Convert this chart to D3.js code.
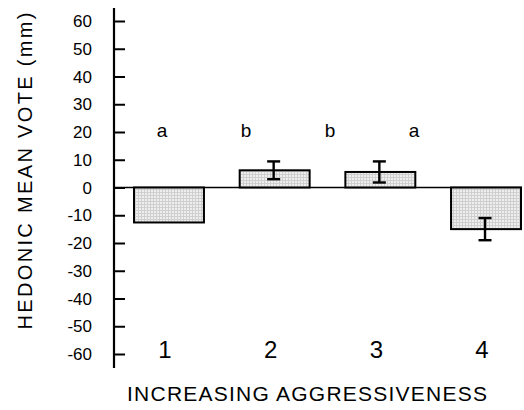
<!DOCTYPE html>
<html lang='en'>
<head>
  <meta charset='UTF-8'>
  <title>Hedonic mean vote</title>
  <style>
    body { margin: 0; background: #fff; }
    text { font-family: 'Liberation Sans', Arial, sans-serif; fill: #000; }
  </style>
</head>
<body>
<div id='chart'></div>
<script src='https://d3js.org/d3.v7.min.js'></script>
<script>
  // data
  var categories = ['1', '2', '3', '4']
  var means = [-12.6, 6.2, 5.6, -15.0]
  var errors = [null, 3.2, 3.8, 4.0]
  var letters = ['a', 'b', 'b', 'a']
  var yTicks = [-60, -50, -40, -30, -20, -10, 0, 10, 20, 30, 40, 50, 60]

  var width = 524, height = 410

  var svg = d3.select('#chart').append('svg')
    .attr('width', width)
    .attr('height', height)

  // dotted grey fill of the bars
  var pat = svg.append('defs').append('pattern')
    .attr('id', 'dots')
    .attr('patternUnits', 'userSpaceOnUse')
    .attr('width', 3).attr('height', 3)
  pat.append('rect').attr('width', 3).attr('height', 3).attr('fill', '#eeeeee')
  pat.append('rect').attr('width', 3).attr('height', 1).attr('fill', '#cfcfcf')
  pat.append('rect').attr('width', 1).attr('height', 3).attr('fill', '#cfcfcf')

  var axisX = 114

  var y = d3.scaleLinear().domain([-60, 60]).range([354, 21])
  var x = d3.scaleBand().domain(categories).range([134, 521]).paddingInner(0.338).paddingOuter(0)
  // the significance letters sit on their own spacing
  var xLetter = d3.scalePoint().domain(categories).range([162, 414])

  // zero line
  svg.append('line')
    .attr('x1', axisX).attr('x2', 522)
    .attr('y1', y(0)).attr('y2', y(0))
    .attr('stroke', '#000').attr('stroke-width', 1.6)

  // bars
  svg.selectAll('.bar').data(means).enter().append('rect')
    .attr('class', 'bar')
    .attr('x', function (d, i) { return x(categories[i]) })
    .attr('width', x.bandwidth())
    .attr('y', function (d) { return y(Math.max(0, d)) })
    .attr('height', function (d) { return Math.abs(y(d) - y(0)) })
    .attr('fill', 'url(#dots)')
    .attr('stroke', '#000')
    .attr('stroke-width', 2)

  // error bars
  var cap = 6.5
  var eb = svg.selectAll('.err').data(means.map(function (m, i) { return {m: m, e: errors[i], c: categories[i]} })
    .filter(function (d) { return d.e != null }))
    .enter().append('g').attr('class', 'err')
    .attr('stroke', '#000').attr('stroke-width', 2.4)
  eb.append('line')
    .attr('x1', function (d) { return x(d.c) + x.bandwidth() / 2 - 1 })
    .attr('x2', function (d) { return x(d.c) + x.bandwidth() / 2 - 1 })
    .attr('y1', function (d) { return y(d.m + d.e) })
    .attr('y2', function (d) { return y(d.m - d.e) })
  eb.append('line')
    .attr('x1', function (d) { return x(d.c) + x.bandwidth() / 2 - 1 - cap })
    .attr('x2', function (d) { return x(d.c) + x.bandwidth() / 2 - 1 + cap })
    .attr('y1', function (d) { return y(d.m + d.e) })
    .attr('y2', function (d) { return y(d.m + d.e) })
  eb.append('line')
    .attr('x1', function (d) { return x(d.c) + x.bandwidth() / 2 - 1 - cap })
    .attr('x2', function (d) { return x(d.c) + x.bandwidth() / 2 - 1 + cap })
    .attr('y1', function (d) { return y(d.m - d.e) })
    .attr('y2', function (d) { return y(d.m - d.e) })

  // y axis, ticks pointing right
  var yAxis = d3.axisRight(y).tickValues(yTicks).tickSize(11).tickFormat('')
  var ga = svg.append('g').attr('transform', 'translate(' + axisX + ',0)').call(yAxis)
  ga.select('.domain').remove()
  ga.selectAll('.tick line').attr('stroke', '#000').attr('stroke-width', 2)
  svg.append('line')
    .attr('x1', axisX).attr('x2', axisX)
    .attr('y1', 8).attr('y2', 368)
    .attr('stroke', '#000').attr('stroke-width', 2.2)

  // tick labels
  svg.selectAll('.ylab').data(yTicks).enter().append('text')
    .attr('class', 'ylab')
    .attr('x', 92)
    .attr('y', function (d) { return y(d) + 6 })
    .attr('text-anchor', 'end')
    .style('font-size', '17px')
    .text(function (d) { return d })

  // category labels
  svg.selectAll('.xlab').data(categories).enter().append('text')
    .attr('class', 'xlab')
    .attr('x', function (d) { return x(d) + x.bandwidth() / 2 - 4 })
    .attr('y', 358)
    .attr('text-anchor', 'middle')
    .style('font-size', '24px')
    .text(function (d) { return d })

  // significance letters
  svg.selectAll('.letter').data(letters).enter().append('text')
    .attr('class', 'letter')
    .attr('x', function (d, i) { return xLetter(categories[i]) })
    .attr('y', y(20) + 5)
    .attr('text-anchor', 'middle')
    .style('font-size', '19px')
    .text(function (d) { return d })

  // axis titles
  svg.append('text')
    .attr('x', 307).attr('y', 401)
    .attr('text-anchor', 'middle')
    .attr('textLength', 360).attr('lengthAdjust', 'spacing')
    .style('font-size', '21px')
    .text('INCREASING AGGRESSIVENESS')

  svg.append('text')
    .attr('transform', 'translate(32,171) rotate(-90)')
    .attr('text-anchor', 'middle')
    .attr('textLength', 317).attr('lengthAdjust', 'spacing')
    .style('font-size', '20px')
    .text('HEDONIC MEAN VOTE (mm)')
</script>
</body>
</html>
